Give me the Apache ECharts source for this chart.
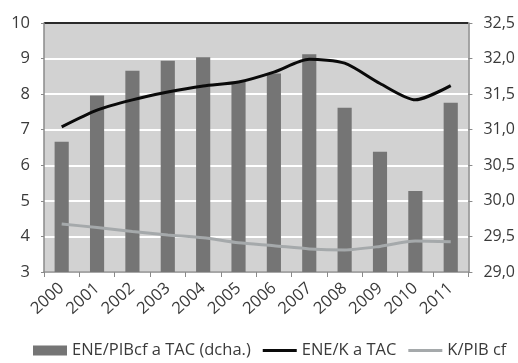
<!DOCTYPE html>
<html>
<head>
<meta charset="utf-8">
<script src="https://cdn.jsdelivr.net/npm/echarts@6/dist/echarts.min.js"></script>
<style>
  html, body { margin: 0; padding: 0; background: #ffffff; }
  #chart { width: 518px; height: 363px; }
</style>
</head>
<body>
<div id="chart"></div>
<script>
// Years on the category axis
const years = ['2000', '2001', '2002', '2003', '2004', '2005', '2006', '2007', '2008', '2009', '2010', '2011'];

// ENE/PIBcf a TAC (right axis, bars)
const enePibcf = [30.83, 31.48, 31.83, 31.97, 32.02, 31.67, 31.79, 32.06, 31.31, 30.69, 30.14, 31.38];

// ENE/K a TAC (left axis, black line)
const eneK = [7.08, 7.55, 7.84, 8.06, 8.23, 8.34, 8.62, 8.98, 8.87, 8.30, 7.84, 8.24];

// K/PIB cf (left axis, grey line)
const kPibcf = [4.35, 4.25, 4.14, 4.04, 3.96, 3.82, 3.74, 3.65, 3.62, 3.72, 3.87, 3.85];

// Axis tick values
const leftTicks = { min: 3, max: 10, step: 1 };
const rightTicks = { min: 29, max: 32.5, step: 0.5 };

const FONT = 'Open Sans';
const TEXT = '#3a3a3a';
const AXIS = '#8a8a8a';

const chart = echarts.init(document.getElementById('chart'), null, { renderer: 'canvas' });

// white grid lines, the top one (at 10) drawn dark as the frame edge
const nLeft = Math.round((leftTicks.max - leftTicks.min) / leftTicks.step) + 1;
const splitColors = [];
for (let i = 0; i < nLeft; i++) splitColors.push(i === nLeft - 1 ? '#2a2a2a' : '#ffffff');

// thin bar used as the legend swatch of the two lines
const lineIcon = 'path://M0,0H34V3H0Z';

chart.setOption({
  animation: false,
  backgroundColor: '#ffffff',
  textStyle: { fontFamily: FONT },
  grid: {
    left: 44, right: 49, top: 23, bottom: 91,
    show: true,
    backgroundColor: '#d2d2d2',
    borderWidth: 0
  },
  legend: {
    left: 28,
    top: 337,
    width: 490,
    itemWidth: 34,
    itemHeight: 10,
    itemGap: 12,
    textStyle: { fontFamily: FONT, fontSize: 16.5, color: TEXT },
    data: [
      { name: 'ENE/PIBcf a TAC (dcha.)', icon: 'rect' },
      { name: 'ENE/K a TAC', icon: lineIcon },
      { name: 'K/PIB cf', icon: lineIcon }
    ]
  },
  xAxis: {
    type: 'category',
    data: years,
    boundaryGap: true,
    axisLine: { lineStyle: { color: AXIS, width: 1.5 } },
    axisTick: { show: true, length: 5, lineStyle: { color: AXIS } },
    axisLabel: {
      rotate: 42,
      fontFamily: FONT,
      fontSize: 16.5,
      color: TEXT,
      margin: 14
    },
    splitLine: { show: false }
  },
  yAxis: [
    {
      type: 'value',
      position: 'left',
      min: leftTicks.min,
      max: leftTicks.max,
      interval: leftTicks.step,
      axisLine: { show: true, lineStyle: { color: AXIS, width: 1.5 } },
      axisTick: { show: true, length: 3, lineStyle: { color: AXIS } },
      axisLabel: { fontFamily: FONT, fontSize: 16.5, color: TEXT, margin: 14 },
      splitLine: { show: true, lineStyle: { color: splitColors, width: 2 } }
    },
    {
      type: 'value',
      position: 'right',
      min: rightTicks.min,
      max: rightTicks.max,
      interval: rightTicks.step,
      axisLine: { show: true, lineStyle: { color: AXIS, width: 1.5 } },
      axisTick: { show: true, length: 4, lineStyle: { color: AXIS } },
      axisLabel: {
        fontFamily: FONT, fontSize: 16, color: TEXT, margin: 15,
        formatter: v => v.toFixed(1).replace('.', ',')
      },
      splitLine: { show: false }
    }
  ],
  series: [
    {
      name: 'ENE/PIBcf a TAC (dcha.)',
      type: 'bar',
      yAxisIndex: 1,
      data: enePibcf,
      barWidth: '40%',
      itemStyle: { color: '#757575' },
      z: 2
    },
    {
      name: 'ENE/K a TAC',
      type: 'line',
      yAxisIndex: 0,
      data: eneK,
      symbol: 'none',
      smooth: 0.25,
      lineStyle: { color: '#0a0a0a', width: 3 },
      itemStyle: { color: '#0a0a0a' },
      z: 4
    },
    {
      name: 'K/PIB cf',
      type: 'line',
      yAxisIndex: 0,
      data: kPibcf,
      symbol: 'none',
      smooth: 0.25,
      lineStyle: { color: '#a5a9ab', width: 3 },
      itemStyle: { color: '#a5a9ab' },
      z: 3
    }
  ]
});
</script>
</body>
</html>
